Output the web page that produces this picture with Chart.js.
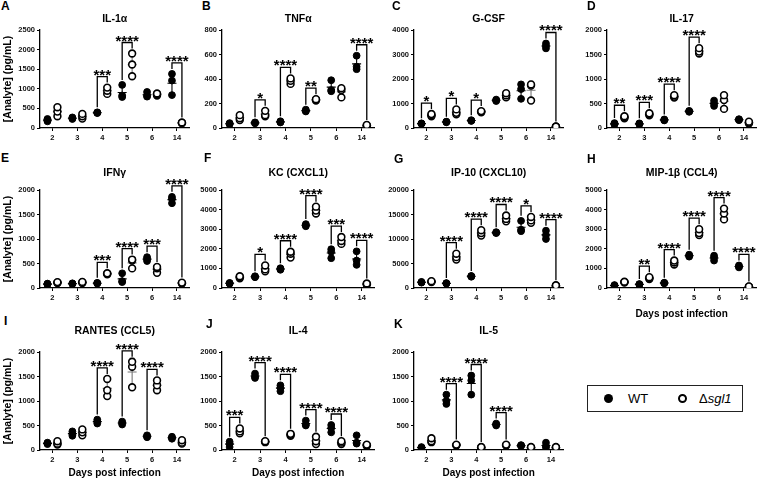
<!DOCTYPE html>
<html>
<head>
<meta charset="utf-8">
<script src="https://cdn.jsdelivr.net/npm/chart.js@4.4.1/dist/chart.umd.min.js"></script>
<style>
  html, body { margin: 0; padding: 0; background: #fff; }
  body { width: 758px; height: 479px; position: relative; overflow: hidden; font-family: 'Liberation Sans', Arial, sans-serif; }
  canvas { position: absolute; }
  .letter { position: absolute; font: bold 12px 'Liberation Sans', Arial, sans-serif; line-height: 12px; color: #000; }
  .legend { position: absolute; left: 587px; top: 385px; width: 154px; height: 25px; border: 1.5px solid #222; font-size: 13px; color: #000; }
  .legend span { position: absolute; top: 5px; line-height: 15px; }
  .dot { position: absolute; top: 8px; width: 9px; height: 9px; border-radius: 50%; box-sizing: border-box; }
</style>
</head>
<body>
<div class="legend">
  <div class="dot" style="left:16px;background:#000"></div>
  <span style="left:40px">WT</span>
  <div class="dot" style="left:90px;background:#fff;border:2px solid #000"></div>
  <span style="left:111px">Δ<i>sgl1</i></span>
</div>
<script>
// x categories (days post infection)
const dayLabels = ['2', '3', '4', '5', '6', '14'];

// each panel: three mice per day, WT (filled) and Δsgl1 (open)
const il1aWT = [[170, 200, 230], [230, 250, 270], [380, 390, 400], [790, 830, 1100], [800, 830, 920], [840, 1210, 1380]];
const il1aKO = [[300, 420, 530], [240, 300, 360], [870, 950, 1030], [1320, 1620, 1900], [830, 860, 880], [120, 130, 140]];
const il1aSig = ['', '', '***', '****', '', '****'];

const tnfWT = [[30, 35, 40], [38, 42, 46], [45, 50, 55], [135, 140, 150], [300, 310, 390], [480, 500, 590]];
const tnfKO = [[65, 80, 105], [95, 105, 140], [360, 385, 405], [225, 230, 235], [250, 310, 325], [15, 20, 25]];
const tnfSig = ['', '*', '****', '**', '', '****'];

const gcsfWT = [[170, 180, 190], [230, 250, 260], [290, 300, 320], [1100, 1130, 1160], [1190, 1590, 1780], [3250, 3350, 3450]];
const gcsfKO = [[480, 520, 570], [560, 620, 760], [640, 660, 690], [1250, 1330, 1420], [1120, 1730, 1780], [40, 50, 60]];
const gcsfSig = ['*', '*', '*', '', '', '****'];

const il17WT = [[70, 85, 100], [75, 85, 95], [155, 165, 175], [330, 340, 350], [450, 500, 560], [160, 170, 180]];
const il17KO = [[200, 220, 240], [260, 280, 300], [620, 640, 670], [1520, 1560, 1630], [390, 570, 670], [90, 110, 130]];
const il17Sig = ['**', '***', '****', '****', '', ''];

const ifngWT = [[70, 80, 90], [80, 90, 95], [90, 100, 105], [120, 140, 300], [550, 590, 630], [1730, 1820, 1860]];
const ifngKO = [[100, 110, 120], [100, 115, 125], [280, 290, 300], [400, 560, 580], [310, 400, 430], [90, 100, 110]];
const ifngSig = ['', '', '***', '****', '***', '****'];

const kcWT = [[220, 240, 260], [550, 570, 600], [930, 970, 1010], [3150, 3200, 3260], [1520, 1850, 1980], [1180, 1400, 1870]];
const kcKO = [[500, 560, 600], [850, 950, 1150], [1550, 1750, 1850], [3800, 3950, 4150], [2250, 2400, 2600], [170, 200, 230]];
const kcSig = ['', '*', '****', '****', '***', '****'];

const ip10WT = [[1100, 1150, 1250], [900, 950, 1000], [2300, 2400, 2450], [11200, 11300, 11400], [11600, 11900, 13700], [10000, 10800, 11700]];
const ip10KO = [[1200, 1300, 1400], [5800, 6300, 7000], [10700, 11200, 11800], [13600, 14100, 14800], [13300, 13800, 14500], [400, 450, 550]];
const ip10Sig = ['', '****', '****', '****', '*', '****'];

const mipWT = [[110, 130, 150], [170, 190, 200], [240, 250, 270], [1600, 1650, 1700], [1400, 1550, 1650], [1050, 1100, 1150]];
const mipKO = [[280, 300, 320], [460, 500, 550], [1200, 1300, 1400], [2700, 2800, 3000], [3500, 3800, 4050], [40, 60, 80]];
const mipSig = ['', '**', '****', '****', '****', '****'];

const rantesWT = [[120, 135, 150], [290, 330, 380], [540, 580, 620], [520, 550, 580], [260, 280, 300], [230, 250, 270]];
const rantesKO = [[110, 130, 180], [300, 360, 420], [1100, 1220, 1450], [1280, 1700, 1800], [1220, 1320, 1420], [130, 150, 200]];
const rantesSig = ['', '', '****', '****', '****', ''];

const il4WT = [[60, 130, 170], [1470, 1500, 1560], [1200, 1270, 1320], [500, 520, 600], [360, 450, 510], [130, 150, 300]];
const il4KO = [[340, 380, 440], [160, 170, 180], [290, 310, 330], [120, 180, 270], [120, 150, 180], [80, 100, 110]];
const il4Sig = ['***', '****', '****', '****', '****', ''];

const il5WT = [[40, 50, 60], [940, 1000, 1130], [1130, 1420, 1520], [500, 520, 540], [80, 90, 100], [50, 80, 150]];
const il5KO = [[160, 180, 240], [90, 100, 110], [40, 50, 60], [90, 100, 110], [40, 50, 60], [40, 50, 60]];
const il5Sig = ['', '****', '****', '****', '', ''];

// y axis limits and tick steps, panel order A..K
const yMaxes = [2500, 800, 4000, 2000, 2000, 5000, 20000, 5000, 2000, 2000, 2000];
const ySteps = [500, 200, 1000, 500, 500, 1000, 5000, 1000, 500, 500, 500];

const panels = [
    { letter: 'A', title: 'IL-1α', wt: il1aWT, ko: il1aKO, sig: il1aSig, col: 0, row: 0, yTitle: true },
    { letter: 'B', title: 'TNFα', wt: tnfWT, ko: tnfKO, sig: tnfSig, col: 1, row: 0 },
    { letter: 'C', title: 'G-CSF', wt: gcsfWT, ko: gcsfKO, sig: gcsfSig, col: 2, row: 0 },
    { letter: 'D', title: 'IL-17', wt: il17WT, ko: il17KO, sig: il17Sig, col: 3, row: 0 },
    { letter: 'E', title: 'IFNγ', wt: ifngWT, ko: ifngKO, sig: ifngSig, col: 0, row: 1, yTitle: true },
    { letter: 'F', title: 'KC (CXCL1)', wt: kcWT, ko: kcKO, sig: kcSig, col: 1, row: 1 },
    { letter: 'G', title: 'IP-10 (CXCL10)', wt: ip10WT, ko: ip10KO, sig: ip10Sig, col: 2, row: 1 },
    { letter: 'H', title: 'MIP-1β (CCL4)', wt: mipWT, ko: mipKO, sig: mipSig, col: 3, row: 1, xTitle: 26 },
    { letter: 'I', title: 'RANTES (CCL5)', wt: rantesWT, ko: rantesKO, sig: rantesSig, col: 0, row: 2, yTitle: true, xTitle: 23 },
    { letter: 'J', title: 'IL-4', wt: il4WT, ko: il4KO, sig: il4Sig, col: 1, row: 2, xTitle: 23 },
    { letter: 'K', title: 'IL-5', wt: il5WT, ko: il5KO, sig: il5Sig, col: 2, row: 2, xTitle: 23 }
];

// layout of the grid
const plotLeft = [40, 222, 414, 607];
const plotW = [151, 154, 151, 151];
const plotTop = [30, 190, 352];
const titleMid = [19, 173.5, 331];
const letterPos = [[1, 0], [202, 0], [392, 0], [587, 0], [1, 152], [204, 152], [394, 153], [587, 153], [4, 315], [206, 318], [394, 318]];
const plotH = 98;
const yAxisW = 40;
const offs = [-0.2, 0.2];
const font = "'Liberation Sans', Arial, sans-serif";

const mean = a => a.reduce((s, v) => s + v, 0) / a.length;
const sd = a => {
    const m = mean(a);
    return Math.sqrt(a.reduce((s, v) => s + (v - m) ** 2, 0) / (a.length - 1));
};

// mean +/- SD behind the points, significance brackets on top
const markup = {
    id: 'markup',
    beforeDatasetsDraw(chart, args, opts) {
        const { ctx } = chart;
        const x = chart.scales.x, y = chart.scales.y;
        ctx.save();
        ctx.lineWidth = 1.1;
        [opts.wt, opts.ko].forEach((groups, k) => {
            ctx.strokeStyle = k === 0 ? '#000' : '#777';
            groups.forEach((vals, i) => {
                const px = x.getPixelForValue(i + offs[k]);
                const m = mean(vals), s = sd(vals);
                const pm = y.getPixelForValue(m);
                const hi = y.getPixelForValue(m + s);
                const lo = y.getPixelForValue(Math.max(0, m - s));
                ctx.beginPath();
                ctx.moveTo(px - 4.5, pm); ctx.lineTo(px + 4.5, pm);
                ctx.moveTo(px, hi); ctx.lineTo(px, lo);
                ctx.moveTo(px - 2.5, hi); ctx.lineTo(px + 2.5, hi);
                ctx.moveTo(px - 2.5, lo); ctx.lineTo(px + 2.5, lo);
                ctx.stroke();
            });
        });
        ctx.restore();
    },
    afterDatasetsDraw(chart, args, opts) {
        const { ctx } = chart;
        const x = chart.scales.x, y = chart.scales.y;
        ctx.save();
        ctx.strokeStyle = '#000';
        ctx.fillStyle = '#000';
        ctx.lineWidth = 1.3;
        ctx.font = 'bold 15px ' + font;
        ctx.textAlign = 'center';
        ctx.textBaseline = 'alphabetic';
        opts.sig.forEach((stars, i) => {
            if (!stars) return;
            const xl = x.getPixelForValue(i + offs[0]);
            const xr = x.getPixelForValue(i + offs[1]);
            const yl = y.getPixelForValue(Math.max(...opts.wt[i])) - 5;
            const yr = y.getPixelForValue(Math.max(...opts.ko[i])) - 5;
            const top = Math.min(yl, yr) - 6;
            ctx.beginPath();
            ctx.moveTo(xl, yl); ctx.lineTo(xl, top); ctx.lineTo(xr, top); ctx.lineTo(xr, yr);
            ctx.stroke();
            ctx.fillText(stars, (xl + xr) / 2, top + 3);
        });
        ctx.restore();
    }
};

panels.forEach((p, n) => {
    const left = plotLeft[p.col] - yAxisW;
    const top = Math.round(titleMid[p.row] - 6.3);
    const headH = plotTop[p.row] - top;
    const xH = p.xTitle ? p.xTitle + 6 : 14;
    const w = yAxisW + plotW[p.col] + 4;
    const h = headH + plotH + xH;

    const letter = document.createElement('div');
    letter.className = 'letter';
    letter.textContent = p.letter;
    letter.style.left = letterPos[n][0] + 'px';
    letter.style.top = letterPos[n][1] + 'px';
    document.body.appendChild(letter);

    const canvas = document.createElement('canvas');
    canvas.width = w;
    canvas.height = h;
    canvas.style.left = left + 'px';
    canvas.style.top = top + 'px';
    document.body.appendChild(canvas);

    new Chart(canvas.getContext('2d'), {
        type: 'scatter',
        data: {
            datasets: [
                {
                    label: 'WT',
                    data: p.wt.flatMap((vals, i) => vals.map(v => ({ x: i + offs[0], y: v }))),
                    pointRadius: 3.4,
                    backgroundColor: '#000',
                    borderColor: '#000',
                    borderWidth: 1
                },
                {
                    label: 'Δsgl1',
                    data: p.ko.flatMap((vals, i) => vals.map(v => ({ x: i + offs[1], y: v }))),
                    pointRadius: 3.4,
                    backgroundColor: '#fff',
                    borderColor: '#000',
                    borderWidth: 1.6
                }
            ]
        },
        options: {
            responsive: false,
            animation: false,
            devicePixelRatio: 1,
            layout: { padding: { left: 0, right: 4, top: 0, bottom: 0 } },
            plugins: {
                legend: { display: false },
                tooltip: { enabled: false },
                title: {
                    display: true,
                    text: p.title,
                    fullSize: false,
                    color: '#000',
                    font: { family: font, size: 10.5, weight: 'bold', lineHeight: 1.2 },
                    padding: { top: 0, bottom: headH - 12.6 }
                },
                markup: { wt: p.wt, ko: p.ko, sig: p.sig }
            },
            scales: {
                x: {
                    type: 'linear',
                    min: -0.5,
                    max: 5.5,
                    afterBuildTicks: scale => { scale.ticks = dayLabels.map((d, i) => ({ value: i })); },
                    afterFit: scale => { scale.height = xH; },
                    ticks: {
                        callback: v => dayLabels[v],
                        color: '#111',
                        padding: 2,
                        maxRotation: 0,
                        font: { family: font, size: 7.5, weight: 'bold' }
                    },
                    grid: { drawOnChartArea: false, drawTicks: true, tickLength: 3, color: '#000' },
                    border: { color: '#000', width: 1.3 },
                    title: {
                        display: !!p.xTitle,
                        text: 'Days post infection',
                        color: '#000',
                        padding: 0,
                        font: { family: font, size: 10, weight: 'bold', lineHeight: 1.2 }
                    }
                },
                y: {
                    min: 0,
                    max: yMaxes[n],
                    afterFit: scale => { scale.width = yAxisW; },
                    ticks: {
                        stepSize: ySteps[n],
                        callback: v => String(v),
                        color: '#111',
                        padding: 2,
                        font: { family: font, size: 7.5, weight: 'bold' }
                    },
                    grid: { drawOnChartArea: false, drawTicks: true, tickLength: 3, color: '#000' },
                    border: { color: '#000', width: 1.3 },
                    title: {
                        display: !!p.yTitle,
                        text: '[Analyte] (pg/mL)',
                        color: '#000',
                        padding: { top: 2, bottom: 0 },
                        font: { family: font, size: 10.5, weight: 'bold', lineHeight: 1.1 }
                    }
                }
            }
        },
        plugins: [markup]
    });
});
</script>
</body>
</html>
